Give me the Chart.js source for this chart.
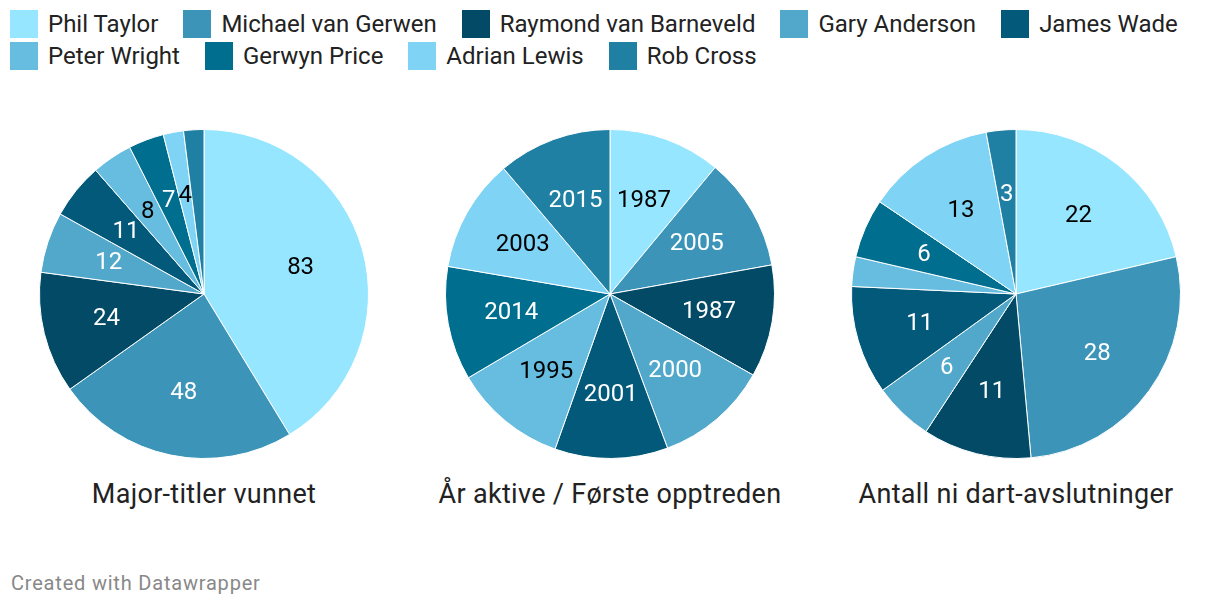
<!DOCTYPE html>
<html>
<head>
<meta charset="utf-8">
<script src="https://cdn.jsdelivr.net/npm/chart.js@4"></script>
<style>
  body { margin: 0; width: 1220px; height: 606px; background: #fff; font-family: Roboto, sans-serif; position: relative; overflow: hidden; }
  #legend { position: absolute; left: 10px; top: 10px; width: 1200px; display: flex; flex-wrap: wrap; column-gap: 25px; row-gap: 4px; }
  .item { display: flex; align-items: center; height: 28px; font-size: 24px; color: #222; }
  .box { width: 28px; height: 28px; margin-right: 10px; }
  .pie { position: absolute; top: 129px; width: 330px; height: 330px; }
  .title { position: absolute; top: 478px; width: 400px; text-align: center; font-size: 27px; letter-spacing: 0.3px; color: #222; }
  #foot { position: absolute; left: 11px; top: 571px; font-size: 20px; letter-spacing: 0.8px; color: #888; }
</style>
</head>
<body>
<div id="legend"></div>
<div class="pie" style="left:39px"><canvas id="c1"></canvas></div>
<div class="pie" style="left:445px"><canvas id="c2"></canvas></div>
<div class="pie" style="left:851px"><canvas id="c3"></canvas></div>
<div class="title" style="left:4px">Major-titler vunnet</div>
<div class="title" style="left:410px">År aktive / Første opptreden</div>
<div class="title" style="left:816px">Antall ni dart-avslutninger</div>
<div id="foot">Created with Datawrapper</div>
<script>
// players
const players = ['Phil Taylor', 'Michael van Gerwen', 'Raymond van Barneveld', 'Gary Anderson', 'James Wade',
                 'Peter Wright', 'Gerwyn Price', 'Adrian Lewis', 'Rob Cross'];
const colors = ['#96e6ff', '#3c95b8', '#024a66', '#52a8cb', '#03597a', '#66bde0', '#006e8f', '#7fd3f5', '#1f80a3'];
// label text colour (dark on light slices)
const labelColors = ['#000', '#fff', '#fff', '#fff', '#fff', '#000', '#fff', '#000', '#fff'];

// values
const majorTitles = [83, 48, 24, 12, 11, 8, 7, 4, 4];
const firstYear = [1987, 2005, 1987, 2000, 2001, 1995, 2014, 2003, 2015];
const nineDarters = [22, 28, 11, 6, 11, 3, 6, 13, 3];

// labels hidden in the original (too small)
const hidden1 = [8];
const hidden3 = [5];

// legend
const legend = document.getElementById('legend');
players.forEach((p, i) => {
    const item = document.createElement('div');
    item.className = 'item';
    item.innerHTML = '<span class="box" style="background:' + colors[i] + '"></span>' + p;
    legend.appendChild(item);
});

// draw values inside slices
const sliceLabels = {
    id: 'sliceLabels',
    afterDatasetsDraw(chart, args, opts) {
        const ctx = chart.ctx;
        const meta = chart.getDatasetMeta(0);
        ctx.save();
        ctx.font = '24px Roboto';
        ctx.textAlign = 'center';
        ctx.textBaseline = 'middle';
        meta.data.forEach((arc, i) => {
            if ((opts.hidden || []).includes(i)) return;
            const mid = (arc.startAngle + arc.endAngle) / 2;
            const r = arc.outerRadius * 0.61;
            ctx.fillStyle = labelColors[i];
            ctx.fillText(chart.data.datasets[0].data[i], arc.x + Math.cos(mid) * r, arc.y + Math.sin(mid) * r + 1);
        });
        ctx.restore();
    }
};

const makePie = (id, values, hidden) => {
    new Chart(document.getElementById(id), {
        type: 'pie',
        data: {
            labels: players,
            datasets: [{
                data: values,
                backgroundColor: colors,
                borderColor: '#fff',
                borderWidth: 1
            }]
        },
        options: {
            responsive: true,
            maintainAspectRatio: false,
            animation: false,
            layout: { padding: 0 },
            plugins: {
                legend: { display: false },
                tooltip: { enabled: false },
                sliceLabels: { hidden: hidden }
            }
        },
        plugins: [sliceLabels]
    });
}

makePie('c1', majorTitles, hidden1);
makePie('c2', firstYear, []);
makePie('c3', nineDarters, hidden3);
</script>
</body>
</html>
